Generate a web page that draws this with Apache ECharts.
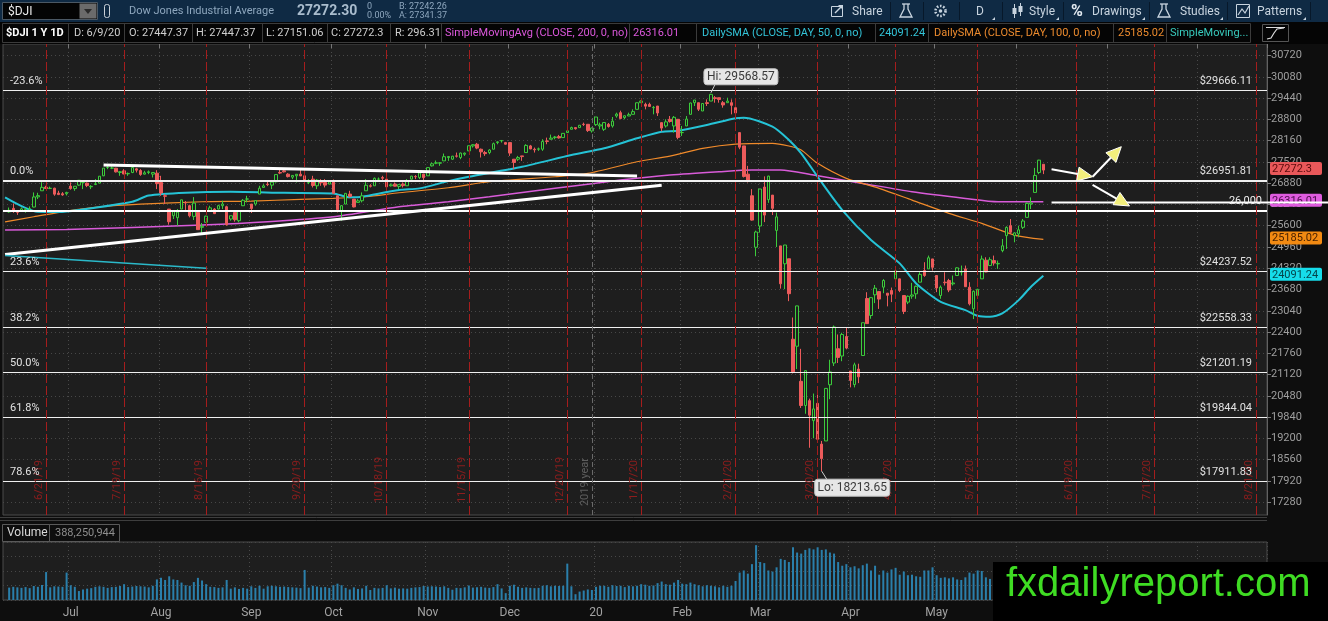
<!DOCTYPE html>
<html><head><meta charset="utf-8"><title>$DJI 1Y 1D</title>
<script src="https://cdn.jsdelivr.net/npm/echarts@6.0.0/dist/echarts.min.js"></script>
<style>html,body{margin:0;padding:0;background:#0e0e0e;overflow:hidden}#chart{width:1328px;height:621px}</style>
</head><body><div id="chart"></div>
<script>
// ---------- DATA: [date, open, high, low, close, volume (millions)] ----------
const jun19 = [
['2019-06-10',26013,26146,25989,26062,235],['2019-06-11',26120,26267,25986,26048,250],['2019-06-12',26010,26054,25926,26004,240],
['2019-06-13',26040,26151,26025,26106,230],['2019-06-14',26079,26128,25991,26090,245],['2019-06-17',26109,26180,26060,26112,225],
['2019-06-18',26160,26600,26150,26465,265],['2019-06-19',26466,26590,26400,26504,250],['2019-06-20',26650,26907,26650,26753,285],
['2019-06-21',26755,26800,26710,26719,530],['2019-06-24',26720,26775,26700,26727,240],['2019-06-25',26728,26741,26500,26548,260],
['2019-06-26',26580,26650,26520,26536,255],['2019-06-27',26560,26610,26500,26526,250],['2019-06-28',26560,26620,26510,26600,520]];
const jul19 = [
['2019-07-01',26790,26902,26682,26717,280],['2019-07-02',26716,26790,26650,26786,250],['2019-07-03',26820,26966,26800,26966,170],
['2019-07-05',26900,26930,26700,26922,200],['2019-07-08',26880,26900,26760,26806,215],['2019-07-09',26770,26820,26700,26783,225],
['2019-07-10',26840,27000,26820,26860,250],['2019-07-11',26880,27090,26880,27088,260],['2019-07-12',27100,27333,27090,27332,250],
['2019-07-15',27350,27400,27300,27359,230],['2019-07-16',27330,27390,27300,27335,245],['2019-07-17',27330,27340,27200,27219,250],
['2019-07-18',27200,27240,27100,27223,265],['2019-07-19',27250,27300,27150,27154,300],['2019-07-22',27160,27200,27100,27172,245],
['2019-07-23',27200,27350,27180,27349,255],['2019-07-24',27310,27340,27200,27270,265],['2019-07-25',27260,27300,27100,27141,260],
['2019-07-26',27150,27250,27140,27192,255],['2019-07-29',27200,27260,27150,27221,240],['2019-07-30',27150,27200,27050,27198,270],
['2019-07-31',27180,27270,26700,26864,390]];
const aug19 = [
['2019-08-01',26900,27100,26500,26583,420],['2019-08-02',26500,26550,26250,26485,380],['2019-08-05',26100,26100,25630,25718,450],
['2019-08-06',25900,26060,25800,26030,390],['2019-08-07',25840,26100,25600,26008,380],['2019-08-08',26100,26380,26100,26378,330],
['2019-08-09',26290,26340,26040,26287,280],['2019-08-12',26200,26230,25850,25898,270],['2019-08-13',25880,26460,25770,26280,340],
['2019-08-14',26000,26000,25480,25480,420],['2019-08-15',25550,25680,25340,25579,370],['2019-08-16',25700,25900,25700,25886,300],
['2019-08-19',26060,26200,26050,26136,250],['2019-08-20',26100,26130,25950,25962,245],['2019-08-21',26100,26230,26090,26202,230],
['2019-08-22',26200,26350,26100,26252,240],['2019-08-23',26170,26200,25600,25629,380],['2019-08-26',25800,25900,25750,25899,215],
['2019-08-27',26000,26050,25720,25778,240],['2019-08-28',25750,26050,25700,26036,210],['2019-08-29',26200,26400,26190,26362,230],
['2019-08-30',26400,26500,26300,26403,215]];
const sep19 = [
['2019-09-03',26250,26250,25980,26118,260],['2019-09-04',26250,26360,26200,26355,230],['2019-09-05',26550,26800,26550,26728,270],
['2019-09-06',26750,26850,26760,26797,215],['2019-09-09',26850,26950,26790,26835,260],['2019-09-10',26820,26910,26700,26909,270],
['2019-09-11',26920,27140,26900,27137,260],['2019-09-12',27200,27300,27150,27182,250],['2019-09-13',27250,27300,27200,27220,255],
['2019-09-16',27150,27180,27050,27076,245],['2019-09-17',27060,27120,27000,27111,240],['2019-09-18',27100,27150,26900,27147,235],
['2019-09-19',27150,27300,27100,27095,225],['2019-09-20',27100,27130,26900,26935,570],['2019-09-23',26900,27000,26850,26950,235],
['2019-09-24',27000,27100,26750,26808,270],['2019-09-25',26800,27000,26700,26970,255],['2019-09-26',26950,27000,26800,26891,240],
['2019-09-27',26900,27000,26750,26820,245],['2019-09-30',26850,26950,26850,26917,230]];
const oct19 = [
['2019-10-01',26950,26990,26570,26573,280],['2019-10-02',26500,26500,26000,26079,310],['2019-10-03',26050,26220,25750,26201,280],
['2019-10-04',26250,26580,26250,26573,230],['2019-10-07',26550,26650,26450,26478,200],['2019-10-08',26400,26400,26150,26164,240],
['2019-10-09',26300,26400,26300,26347,210],['2019-10-10',26350,26600,26300,26497,220],['2019-10-11',26650,27000,26650,26817,270],
['2019-10-14',26800,26850,26750,26787,190],['2019-10-15',26800,27050,26800,27025,230],['2019-10-16',27000,27050,26950,27001,220],
['2019-10-17',27050,27100,26950,27026,230],['2019-10-18',27000,27050,26700,26770,280],['2019-10-21',26800,26870,26780,26828,220],
['2019-10-22',26850,26900,26780,26788,235],['2019-10-23',26780,26840,26700,26834,215],['2019-10-24',26850,26900,26750,26806,220],
['2019-10-25',26800,27000,26800,26959,215],['2019-10-28',27000,27100,26990,27091,230],['2019-10-29',27080,27120,27000,27071,240],
['2019-10-30',27050,27200,27000,27186,245],['2019-10-31',27150,27160,26900,27046,265]];
const nov19 = [
['2019-11-01',27100,27350,27100,27347,255],['2019-11-04',27400,27500,27380,27462,260],['2019-11-05',27480,27560,27450,27492,255],
['2019-11-06',27480,27500,27400,27493,245],['2019-11-07',27550,27770,27550,27675,260],['2019-11-08',27650,27690,27550,27681,230],
['2019-11-11',27600,27700,27580,27691,195],['2019-11-12',27700,27800,27650,27691,230],['2019-11-13',27650,27800,27600,27784,225],
['2019-11-14',27750,27800,27700,27782,240],['2019-11-15',27850,28010,27850,28005,275],['2019-11-18',28000,28050,27950,28036,235],
['2019-11-19',28050,28090,27900,27934,240],['2019-11-20',27900,27920,27650,27821,250],['2019-11-21',27800,27850,27700,27767,235],
['2019-11-22',27800,27900,27750,27876,230],['2019-11-25',27900,28100,27900,28067,245],['2019-11-26',28100,28140,28050,28122,300],
['2019-11-27',28150,28170,28100,28164,220],['2019-11-29',28100,28120,28040,28051,130]];
const dec19 = [
['2019-12-02',28100,28100,27700,27783,270],['2019-12-03',27600,27600,27300,27503,290],['2019-12-04',27600,27700,27550,27650,250],
['2019-12-05',27700,27700,27550,27678,230],['2019-12-06',27800,28050,27800,28015,240],['2019-12-09',28000,28030,27900,27909,230],
['2019-12-10',27900,27950,27800,27882,225],['2019-12-11',27900,27950,27850,27911,230],['2019-12-12',27900,28200,27850,28132,270],
['2019-12-13',28150,28250,28050,28135,280],['2019-12-16',28200,28340,28200,28235,260],['2019-12-17',28250,28300,28200,28268,270],
['2019-12-18',28280,28330,28220,28240,265],['2019-12-19',28250,28380,28240,28377,270],['2019-12-20',28400,28580,28400,28455,690],
['2019-12-23',28500,28580,28500,28551,260],['2019-12-24',28550,28560,28490,28516,110],['2019-12-26',28550,28630,28550,28621,160],
['2019-12-27',28650,28700,28600,28645,180],['2019-12-30',28650,28650,28420,28462,200],['2019-12-31',28450,28550,28400,28538,190]];
const jan20 = [
['2020-01-02',28640,28870,28600,28869,250],['2020-01-03',28600,28700,28500,28634,270],['2020-01-06',28500,28710,28450,28703,270],
['2020-01-07',28650,28690,28550,28584,250],['2020-01-08',28600,28870,28550,28745,280],['2020-01-09',28900,29000,28850,28957,265],
['2020-01-10',29000,29060,28800,28824,270],['2020-01-13',28850,28910,28800,28907,245],['2020-01-14',28900,29000,28900,28940,270],
['2020-01-15',28950,29100,28950,29030,260],['2020-01-16',29100,29300,29100,29298,270],['2020-01-17',29300,29370,29300,29348,300],
['2020-01-21',29250,29300,29100,29196,290],['2020-01-22',29250,29300,29180,29187,270],['2020-01-23',29150,29200,28950,29160,275],
['2020-01-24',29200,29200,28900,28990,320],['2020-01-27',28700,28700,28440,28536,350],['2020-01-28',28600,28800,28550,28723,300],
['2020-01-29',28800,28900,28700,28734,290],['2020-01-30',28600,28900,28400,28860,330],['2020-01-31',28800,28800,28200,28256,380]];
const feb20 = [
['2020-02-03',28400,28600,28300,28400,310],['2020-02-04',28600,28900,28600,28808,300],['2020-02-05',28950,29300,28950,29291,330],
['2020-02-06',29300,29380,29200,29380,300],['2020-02-07',29300,29300,29050,29103,280],['2020-02-10',29050,29280,29050,29276,260],
['2020-02-11',29300,29400,29200,29276,280],['2020-02-12',29350,29568.57,29350,29551,270],['2020-02-13',29450,29500,29300,29424,260],
['2020-02-14',29450,29450,29300,29398,240],['2020-02-18',29300,29350,29150,29232,270],['2020-02-19',29300,29450,29300,29348,250],
['2020-02-20',29300,29400,28950,29220,270],['2020-02-21',29150,29150,28900,28992,360],['2020-02-24',28400,28400,27900,27961,520],
['2020-02-25',28000,28000,27050,27081,560],['2020-02-26',27150,27400,26900,26957,500],['2020-02-27',26500,26700,25750,25767,680],
['2020-02-28',24950,25450,24680,25409,1040]];
const mar20 = [
['2020-03-02',25590,26706,25391,26703,720],['2020-03-03',26763,27084,25707,25918,700],['2020-03-04',26383,27102,26286,27091,560],
['2020-03-05',26520,26520,25920,26121,540],['2020-03-06',25458,25994,24958,25865,620],['2020-03-09',24992,24992,23706,23851,780],
['2020-03-10',24453,25020,23690,25018,760],['2020-03-11',24604,24604,23328,23553,720],['2020-03-12',22184,22837,21154,21200,1000],
['2020-03-13',21973,23190,21285,23186,900],['2020-03-16',20917,21894,20116,20189,880],['2020-03-17',20190,21254,19940,21237,950],
['2020-03-18',20336,20396,18918,19899,980],['2020-03-19',19734,20550,19204,20087,960],['2020-03-20',20254,20531,19122,19174,1000],
['2020-03-23',19028,19122,18213.65,18592,950],['2020-03-24',19123,20704,19123,20704,960],['2020-03-25',20814,21566,20380,21200,900],
['2020-03-26',21468,22596,21378,22552,880],['2020-03-27',21898,22327,21469,21637,720],['2020-03-30',21678,22378,21522,22327,650],
['2020-03-31',22265,22541,21880,21917,680]];
const apr20 = [
['2020-04-01',21227,21227,20735,20944,620],['2020-04-02',20819,21477,20734,21413,640],['2020-04-03',21285,21447,20863,21053,600],
['2020-04-06',21693,22680,21693,22680,660],['2020-04-07',23409,23598,22650,22654,690],['2020-04-08',22898,23434,22800,23434,560],
['2020-04-09',23520,23815,23270,23719,650],['2020-04-13',23617,23617,23096,23391,480],['2020-04-14',23750,23991,23568,23950,560],
['2020-04-15',23570,23570,23172,23505,520],['2020-04-16',23650,23738,23300,23538,580],['2020-04-17',24000,24265,23900,24242,610],
['2020-04-20',24000,24000,23600,23650,480],['2020-04-21',23500,23500,22940,23019,540],['2020-04-22',23300,23500,23240,23475,470],
['2020-04-23',23480,23880,23400,23516,480],['2020-04-24',23550,23800,23400,23775,450],['2020-04-27',23900,24200,23900,24134,440],
['2020-04-28',24250,24500,24060,24101,560],['2020-04-29',24300,24700,24300,24634,560],['2020-04-30',24600,24600,24250,24346,620]];
const may20 = [
['2020-05-01',24100,24100,23600,23724,470],['2020-05-04',23500,23800,23400,23750,420],['2020-05-05',23900,24200,23800,23883,430],
['2020-05-06',23950,24000,23600,23664,410],['2020-05-07',23850,24100,23800,23876,430],['2020-05-08',24100,24350,24100,24331,390],
['2020-05-11',24200,24400,24100,24222,380],['2020-05-12',24300,24400,23760,23764,430],['2020-05-13',23750,23900,23200,23248,520],
['2020-05-14',23100,23650,22790,23625,500],['2020-05-15',23500,23700,23400,23685,560],['2020-05-18',24000,24700,24000,24597,550],
['2020-05-19',24560,24650,24200,24207,430],['2020-05-20',24400,24650,24400,24576,400],['2020-05-21',24550,24700,24400,24474,430],
['2020-05-22',24450,24550,24300,24465,380],['2020-05-26',24850,25200,24800,24995,470],['2020-05-27',25300,25580,24900,25548,560],
['2020-05-28',25600,25800,25350,25401,470],['2020-05-29',25300,25400,25100,25383,600]];
const jun20 = [
['2020-06-01',25350,25600,25250,25475,390],['2020-06-02',25550,25800,25500,25742,420],['2020-06-03',25850,26300,25850,26270,480],
['2020-06-04',26250,26450,26100,26281,470],['2020-06-05',26600,27338,26600,27111,560],['2020-06-08',27200,27580,27150,27572,460],
['2020-06-09',27447.37,27447.37,27151.06,27272.3,388.250944]];

// moving-average readings [date, value]
const ma50Pts = [['2019-06-07',26450],['2019-06-19',26018],['2019-06-26',26010],['2019-07-03',26070],['2019-07-23',26319],['2019-07-29',26505],
['2019-08-09',26590],['2019-08-26',26620],['2019-09-13',26590],['2019-10-01',26571],['2019-10-04',26470],['2019-10-08',26452],['2019-10-10',26470],
['2019-10-23',26671],['2019-10-30',26722],['2019-11-08',26940],['2019-11-15',27072],['2019-12-05',27373],['2019-12-23',27725],['2020-01-06',27927],
['2020-01-16',28228],['2020-01-27',28427],['2020-01-31',28457],['2020-02-11',28628],['2020-02-21',28830],['2020-02-25',28850],['2020-03-05',28577],
['2020-03-11',28177],['2020-03-16',27776],['2020-03-20',27072],['2020-03-30',26070],['2020-04-08',25167],['2020-04-20',24465],['2020-04-24',23863],
['2020-05-04',23310],['2020-05-12',23060],['2020-05-15',22888],['2020-05-20',22858],['2020-05-26',22960],['2020-06-01',23360],['2020-06-04',23761],
['2020-06-09',24091.24]];
const ma100Pts = [['2019-06-07',25717],['2019-06-18',25868],['2019-06-28',26040],['2019-07-11',26169],['2019-07-25',26250],['2019-08-15',26320],
['2019-09-03',26340],['2019-09-19',26391],['2019-10-01',26421],['2019-10-11',26470],['2019-10-23',26590],['2019-11-08',26741],['2019-11-22',26922],
['2019-12-17',27072],['2019-12-30',27172],['2020-01-16',27523],['2020-01-29',27695],['2020-02-10',27927],['2020-02-21',28056],['2020-03-05',28077],
['2020-03-11',27996],['2020-03-16',27876],['2020-03-20',27475],['2020-03-31',27024],['2020-04-13',26723],['2020-04-23',26370],['2020-05-06',25970],
['2020-05-18',25669],['2020-05-29',25317],['2020-06-09',25185.02]];
const ma200Pts = [['2019-06-07',25467],['2019-06-28',25488],['2019-07-23',25548],['2019-08-15',25618],['2019-09-09',25717],['2019-10-01',25868],
['2019-10-23',26169],['2019-11-08',26320],['2019-11-22',26470],['2019-12-17',26723],['2020-01-10',26971],['2020-01-29',27123],['2020-02-14',27223],
['2020-02-27',27273],['2020-03-09',27273],['2020-03-19',27123],['2020-04-06',26872],['2020-04-23',26620],['2020-05-12',26421],['2020-05-22',26320],
['2020-06-09',26316.01]];

// axis / annotation values
const priceTicks = [17280,17920,18560,19200,19840,20480,21120,21760,22400,23040,23680,24320,24960,25600,26240,26880,27520,28160,28800,29440,30080,30720];
const monthTicks = [['2019-07-01','Jul'],['2019-08-01','Aug'],['2019-09-03','Sep'],['2019-10-01','Oct'],['2019-11-01','Nov'],['2019-12-02','Dec'],
['2020-01-02','20'],['2020-02-03','Feb'],['2020-03-02','Mar'],['2020-04-01','Apr'],['2020-05-01','May'],['2020-06-01','Jun'],['2020-07-01','Jul'],['2020-08-03','Aug']];
const expiries = [['2019-06-21','6/21/19'],['2019-07-19','7/19/19'],['2019-08-16','8/16/19'],['2019-09-20','9/20/19'],['2019-10-18','10/18/19'],
['2019-11-15','11/15/19'],['2019-12-20','12/20/19'],['2020-01-17','1/17/20'],['2020-02-21','2/21/20'],['2020-03-20','3/20/20'],['2020-04-17','4/17/20'],
['2020-05-15','5/15/20'],['2020-06-19','6/19/20'],['2020-07-17','7/17/20'],['2020-08-21','8/21/20']];
const yearMark = ['2019-12-31','2019 year'];
const fibLevels = [['-23.6%',29666.11],['0.0%',26951.81],['23.6%',24237.52],['38.2%',22558.33],['50.0%',21201.19],['61.8%',19844.04],['78.6%',17911.83]];
const supportLine = 26040;
const shortLine = ['2020-06-11',26297,'26,000'];
const trendLines = [
  [['2019-07-12',27424],['2020-01-16',27093],'#ffffff',3],
  [['2019-06-07',24736],['2020-01-27',26816],'#ffffff',3],
  [['2019-06-07',24706],['2019-08-16',24318],'#2bb9c9',1.5]];
const arrows = [
  [['2020-06-11',27296],['2020-06-25',27073]],
  [['2020-06-25',27073],['2020-07-07',27976]],
  [['2020-06-25',26824],['2020-07-09',26192]]];
const hiPoint = ['2020-02-12',29568.57];
const loPoint = ['2020-03-23',18213.65];
const lastTags = [['27272.3',27272.3,'#e9585a','#5c0b0b'],['26316.01',26316.01,'#df5cdf','#4a0b4a'],['25185.02',25185.02,'#f28a12','#4a2200'],['24091.24',24091.24,'#16dcea','#04444a']];
const futureHolidays = ['2020-07-03'];

// ---------- build categories ----------
const rows = [].concat(jun19,jul19,aug19,sep19,oct19,nov19,dec19,jan20,feb20,mar20,apr20,may20,jun20);
const dates = ['2019-06-07'].concat(rows.map(r => r[0]));
(function(){ const d = new Date(Date.UTC(2020,5,10));
  while (dates.length < 308) { const s = d.toISOString().slice(0,10), w = d.getUTCDay();
    if (w !== 0 && w !== 6 && futureHolidays.indexOf(s) < 0) dates.push(s); d.setUTCDate(d.getUTCDate()+1); } })();
const idxOf = {}; dates.forEach((d,i) => idxOf[d] = i);
const candleData = dates.map(() => '-');
const volData = dates.map(() => '-');
rows.forEach(r => { const i = idxOf[r[0]]; candleData[i] = [r[1], r[4], r[3], r[2]]; volData[i] = r[5]; });
function sparse(pts){ const a = dates.map(() => null); pts.forEach(p => a[idxOf[p[0]]] = p[1]); return a; }
const monthIdx = new Set(monthTicks.map(m => idxOf[m[0]]));
const monthName = {}; monthTicks.forEach(m => monthName[idxOf[m[0]]] = m[1]);

const FONT = 'Roboto, "Noto Sans", sans-serif';
const GRID_L = 3, GRID_W = 1264;
const chart = echarts.init(document.getElementById('chart'));

const markLineData = [];
fibLevels.forEach(f => markLineData.push({ yAxis: f[1], lineStyle: { color: '#f0f0f0', width: f[0] === '0.0%' ? 2 : 1, type: 'solid' } }));
markLineData.push({ yAxis: supportLine, lineStyle: { color: '#ffffff', width: 2, type: 'solid' } });
expiries.forEach(e => markLineData.push({ xAxis: idxOf[e[0]], lineStyle: { color: '#a51d1d', width: 1, type: [9, 3] } }));
markLineData.push({ xAxis: idxOf[yearMark[0]], lineStyle: { color: '#6a6a6a', width: 1, type: [5, 3] } });
trendLines.forEach(t => markLineData.push([{ coord: [idxOf[t[0][0]], t[0][1]], lineStyle: { color: t[2], width: t[3], type: 'solid' } }, { coord: [idxOf[t[1][0]], t[1][1]] }]));

const option = {
  animation: false,
  backgroundColor: '#0e0e0e',
  grid: [
    { left: GRID_L, width: GRID_W, top: 44, height: 471, show: true, backgroundColor: '#1e1e1e', borderColor: '#4a4a4a', borderWidth: 1 },
    { left: GRID_L, width: GRID_W, top: 542, height: 58, show: true, backgroundColor: '#1e1e1e', borderColor: '#4a4a4a', borderWidth: 1 }
  ],
  xAxis: [
    { type: 'category', gridIndex: 0, data: dates, position: 'top', boundaryGap: true,
      axisLine: { show: false }, axisLabel: { show: false },
      axisTick: { show: true, inside: true, length: 4, interval: i => monthIdx.has(i), lineStyle: { color: '#777' } },
      splitLine: { show: true, interval: i => monthIdx.has(i), lineStyle: { color: '#4a4a4a', type: [1, 3] } } },
    { type: 'category', gridIndex: 1, data: dates, position: 'bottom', boundaryGap: true,
      axisLine: { show: false }, axisTick: { show: false },
      axisLabel: { show: true, interval: i => monthIdx.has(i), formatter: (v, i) => monthName[i] || '', color: '#a2a2a2', fontSize: 12, fontFamily: FONT, margin: 7 },
      splitLine: { show: true, interval: i => monthIdx.has(i), lineStyle: { color: '#4a4a4a', type: [1, 3] } } }
  ],
  yAxis: [
    { type: 'value', gridIndex: 0, min: 16895, max: 31066, position: 'right',
      axisLine: { show: true, lineStyle: { color: '#626262' } },
      axisTick: { show: true, length: 4, customValues: priceTicks, lineStyle: { color: '#7a7a7a' } },
      axisLabel: { show: true, customValues: priceTicks, formatter: v => String(v), color: '#9e9e9e', fontSize: 11, fontFamily: FONT, margin: 4 },
      splitLine: { show: true, lineStyle: { color: '#474747', type: [1, 3] } } },
    { type: 'value', gridIndex: 1, min: 0, max: 1100, interval: 275, position: 'right',
      axisLine: { show: false }, axisTick: { show: false }, axisLabel: { show: false },
      splitLine: { show: true, lineStyle: { color: '#474747', type: [1, 3] } } }
  ],
  series: [
    { type: 'line', name: 'SMA200', xAxisIndex: 0, yAxisIndex: 0, data: sparse(ma200Pts), connectNulls: true, showSymbol: false, smooth: 0.25,
      lineStyle: { color: '#d95bd9', width: 1.5 }, silent: true, z: 2 },
    { type: 'line', name: 'SMA100', xAxisIndex: 0, yAxisIndex: 0, data: sparse(ma100Pts), connectNulls: true, showSymbol: false, smooth: 0.25,
      lineStyle: { color: '#f08a2a', width: 1.2 }, silent: true, z: 2 },
    { type: 'line', name: 'SMA50', xAxisIndex: 0, yAxisIndex: 0, data: sparse(ma50Pts), connectNulls: true, showSymbol: false, smooth: 0.25,
      lineStyle: { color: '#25c3d6', width: 2 }, silent: true, z: 2 },
    { type: 'candlestick', name: '$DJI', xAxisIndex: 0, yAxisIndex: 0, data: candleData, barWidth: 3, silent: true, z: 3,
      itemStyle: { color: '#1e1e1e', color0: '#ec5b5b', borderColor: '#3ccc3c', borderColor0: '#ec5b5b', borderWidth: 1 },
      markLine: { silent: true, symbol: ['none', 'none'], label: { show: false }, emphasis: { disabled: true }, data: markLineData } },
    { type: 'bar', name: 'Volume', xAxisIndex: 1, yAxisIndex: 1, data: volData, barWidth: 2, silent: true,
      itemStyle: { color: '#2a7fab' } }
  ]
};
chart.setOption(option);

// ---------- graphic helpers ----------
function txt(x, y, text, fill, size, o) { o = o || {}; const al = o.align || 'left', va = o.va || 'middle';
  return { type: 'text', x: x, y: y, z: o.z || 20, silent: true, rotation: o.rot || 0,
    style: { text: text, fill: fill, font: (o.bold ? 'bold ' : '') + size + 'px ' + (o.family || FONT), align: al, verticalAlign: va, textAlign: al, textVerticalAlign: va } }; }
function rect(x, y, w, h, fill, stroke, o) { o = o || {};
  return { type: 'rect', z: o.z || 10, silent: true, shape: { x: x, y: y, width: w, height: h, r: o.r || 0 }, style: { fill: fill || 'none', stroke: stroke || 'none', lineWidth: o.lw || 1 } }; }
function line(x1, y1, x2, y2, stroke, lw, o) { o = o || {};
  return { type: 'line', z: o.z || 15, silent: true, shape: { x1: x1, y1: y1, x2: x2, y2: y2 }, style: { stroke: stroke, lineWidth: lw || 1, lineDash: o.dash || null } }; }
function poly(pts, fill, stroke, o) { o = o || {};
  return { type: 'polygon', z: o.z || 15, silent: true, shape: { points: pts }, style: { fill: fill || 'none', stroke: stroke || 'none', lineWidth: o.lw || 1 } }; }
function pline(pts, stroke, lw, o) { o = o || {};
  return { type: 'polyline', z: o.z || 15, silent: true, shape: { points: pts }, style: { fill: 'none', stroke: stroke, lineWidth: lw || 1 } }; }
function circ(cx, cy, r, fill, stroke, o) { o = o || {};
  return { type: 'circle', z: o.z || 15, silent: true, shape: { cx: cx, cy: cy, r: r }, style: { fill: fill || 'none', stroke: stroke || 'none', lineWidth: o.lw || 1, lineDash: o.dash || null } }; }
const px = (d, v) => chart.convertToPixel({ xAxisIndex: 0, yAxisIndex: 0 }, [idxOf[d], v]);
const g = [];

// ---------- toolbar row 1 ----------
const TB = '#c8d4df';
g.push(rect(0, 0, 1328, 22, '#0f2a44', null, { z: 5 }));
g.push(rect(2.5, 2.5, 95, 17, '#040404', '#4b5864', { z: 6 }));
g.push(txt(8, 11.5, '$DJI', '#eaeaea', 12, { z: 7 }));
g.push(rect(79.5, 3.5, 17, 15, '#6b6b6b', null, { z: 7 }));
g.push(poly([[84, 9], [92, 9], [88, 14]], '#2a2a2a', null, { z: 8 }));
g.push(rect(104.5, 4.5, 5, 13, 'none', '#c9d1d9', { r: 2, z: 7 }));
g.push(txt(129, 11.5, 'Dow Jones Industrial Average', '#8ea7be', 11));
g.push(txt(297, 11.5, '27272.30', '#a9bccd', 14, { bold: true }));
g.push(txt(367, 6.5, '0', '#8ea7be', 9)); g.push(txt(367, 15.5, '0.00%', '#8ea7be', 9));
g.push(txt(399, 6.5, 'B: 27242.26', '#8ea7be', 9)); g.push(txt(399, 15.5, 'A: 27341.37', '#8ea7be', 9));
g.push(rect(831.5, 6.5, 11, 10, 'none', TB, { z: 7 }));
g.push(pline([[835, 13], [842, 6]], TB, 1.5, { z: 8 })); g.push(poly([[838, 5], [843, 5], [843, 10]], TB, null, { z: 8 }));
g.push(txt(852, 11.5, 'Share', TB, 12));
[890, 923, 959, 1002, 1063, 1149, 1227, 1310].forEach(x => g.push(line(x + 0.5, 2, x + 0.5, 20, '#07182a', 1, { z: 7 })));
function flask(x) { g.push(pline([[x + 2, 4], [x + 2, 9], [x - 2, 17], [x + 10, 17], [x + 6, 9], [x + 6, 4]], TB, 1.3, { z: 8 })); g.push(line(x, 4, x + 8, 4, TB, 1.3, { z: 8 })); }
flask(902); flask(1160);
g.push(circ(940.5, 11, 5, 'none', TB, { lw: 2.6, dash: [1.6, 1.6], z: 8 })); g.push(circ(940.5, 11, 1.8, TB, null, { z: 8 }));
g.push(txt(976, 11.5, 'D', TB, 12));
[995, 1059, 1145, 1223, 1306].forEach(x => g.push(poly([[x - 3, 20], [x, 20], [x, 17]], TB, null, { z: 8 })));
g.push(line(1014.5, 4, 1014.5, 18, TB, 1, { z: 8 })); g.push(rect(1012.5, 8, 4, 6, TB, null, { z: 8 }));
g.push(line(1020.5, 3, 1020.5, 16, TB, 1, { z: 8 })); g.push(rect(1018.5, 6, 4, 6, TB, null, { z: 8 }));
g.push(txt(1029, 11.5, 'Style', TB, 12));
g.push(txt(1071, 11.5, '%', '#e4ebf2', 16, { bold: true }));
g.push(txt(1092, 11.5, 'Drawings', TB, 12));
g.push(txt(1180, 11.5, 'Studies', TB, 12));
g.push(rect(1236.5, 4.5, 13, 13, 'none', TB, { z: 8 }));
g.push(pline([[1238, 15], [1242, 9], [1245, 13], [1249, 6]], TB, 1.2, { z: 8 }));
g.push(txt(1257, 11.5, 'Patterns', TB, 12));

// ---------- toolbar row 2 ----------
g.push(rect(0, 22, 1328, 22, '#050505', null, { z: 5 }));
g.push(rect(2.5, 23.5, 1248, 19, 'none', '#3b3b3b', { z: 6 }));
[68, 124, 192, 262, 327, 390, 441, 629, 696, 875, 928, 1113, 1166].forEach(x => g.push(line(x + 0.5, 24, x + 0.5, 42, '#3b3b3b', 1, { z: 6 })));
const W = '#cfcfcf';
g.push(txt(6, 33, '$DJI 1 Y 1D', '#ffffff', 11, { bold: true }));
g.push(txt(74, 33, 'D: 6/9/20', W, 11));
g.push(txt(129, 33, 'O: 27447.37', W, 11));
g.push(txt(196, 33, 'H: 27447.37', W, 11));
g.push(txt(266, 33, 'L: 27151.06', W, 11));
g.push(txt(331, 33, 'C: 27272.3', W, 11));
g.push(txt(395, 33, 'R: 296.31', W, 11));
g.push(txt(445, 33, 'SimpleMovingAvg (CLOSE, 200, 0, no)', '#dc58dc', 11));
g.push(txt(633, 33, '26316.01', '#dc58dc', 11));
g.push(txt(702, 33, 'DailySMA (CLOSE, DAY, 50, 0, no)', '#33c4d8', 11));
g.push(txt(879, 33, '24091.24', '#33c4d8', 11));
g.push(txt(934, 33, 'DailySMA (CLOSE, DAY, 100, 0, no)', '#ec8b2e', 11));
g.push(txt(1118, 33, '25185.02', '#ec8b2e', 11));
g.push(txt(1170, 33, 'SimpleMoving...', '#38cbbd', 11));
g.push(rect(1262.5, 24.5, 26, 17, 'none', '#555', { z: 6 }));
g.push(line(1266, 27.5, 1285, 27.5, '#dddddd', 1, { z: 7 }));
g.push(pline([[1267, 39], [1271, 38], [1274, 33], [1277, 29], [1284, 28]], '#dddddd', 1.2, { z: 7 }));

// ---------- fib labels, tags ----------
fibLevels.forEach(f => { const y = px(dates[0], f[1])[1];
  g.push(txt(10, y - 9, f[0], '#e2e2e2', 11));
  g.push(txt(1252, y - 9, '$' + f[1].toFixed(2), '#e2e2e2', 11, { align: 'right' })); });
lastTags.forEach(t => { const y = px(dates[0], t[1])[1] - 1.5;
  g.push(rect(1270, y - 6.5, 52, 13, t[2], null, { r: 2, z: 30 }));
  g.push(txt(1272, y + 0.5, t[0], t[3], 11, { z: 31 })); });

// short drawn line + label
(function(){ const p = px(shortLine[0], shortLine[1]);
  g.push(line(p[0], p[1], 1328, p[1], '#ffffff', 2, { z: 35 }));
  g.push(txt(1262, p[1] - 1, shortLine[2], '#f0f0f0', 11, { align: 'right', z: 36 })); })();

// arrows
arrows.forEach(a => { const p1 = px(a[0][0], a[0][1]), p2 = px(a[1][0], a[1][1]);
  const dx = p2[0] - p1[0], dy = p2[1] - p1[1], len = Math.hypot(dx, dy), ux = dx / len, uy = dy / len, hl = 15, hw = 7;
  const bx = p2[0] - ux * hl, by = p2[1] - uy * hl;
  g.push(line(p1[0], p1[1], bx, by, '#ffffff', 2, { z: 40 }));
  g.push(poly([[p2[0], p2[1]], [bx - uy * hw, by + ux * hw], [bx + uy * hw, by - ux * hw]], '#f3ef7c', '#ffffff', { z: 41 })); });

// expiry labels
expiries.forEach(e => { const x = px(e[0], 20000)[0];
  g.push(txt(x - 7, 480, e[1], '#8d1d1d', 11, { align: 'center', rot: Math.PI / 2, z: 12 })); });
(function(){ const x = px(yearMark[0], 20000)[0]; g.push(txt(x - 7, 482, yearMark[1], '#5e5e5e', 11, { align: 'center', rot: Math.PI / 2, z: 12 })); })();

// hi / lo callouts
(function(){ const h = px(hiPoint[0], hiPoint[1]);
  g.push(line(h[0], h[1] - 1, h[0] + 4, h[1] - 9, '#cfcfcf', 1, { z: 30 }));
  g.push(rect(h[0] - 7, h[1] - 25, 74, 16, '#e6e6e6', '#c4c4c4', { r: 3, z: 31 }));
  g.push(txt(h[0] + 30, h[1] - 16.5, 'Hi: ' + hiPoint[1].toFixed(2), '#3a3a3a', 12, { align: 'center', z: 32 }));
  const l = px(loPoint[0], loPoint[1]);
  g.push(line(l[0], l[1], l[0] + 5, l[1] + 8, '#cfcfcf', 1, { z: 30 }));
  g.push(rect(l[0] - 7, l[1] + 8, 75, 17, '#e6e6e6', '#c4c4c4', { r: 3, z: 31 }));
  g.push(txt(l[0] + 30.5, l[1] + 17, 'Lo: ' + loPoint[1].toFixed(2), '#3a3a3a', 12, { align: 'center', z: 32 })); })();

// volume header
g.push(line(0, 517.5, 1267, 517.5, '#3e3e3e', 1, { z: 6 }));
g.push(line(0, 520.5, 1267, 520.5, '#3e3e3e', 1, { z: 6 }));
g.push(rect(2.5, 524.5, 47, 17, 'none', '#5a5a5a', { z: 6 }));
g.push(txt(7, 533, 'Volume', '#d8d8d8', 12));
g.push(rect(49.5, 524.5, 70, 17, 'none', '#5a5a5a', { z: 6 }));
g.push(txt(55, 533, '388,250,944', '#8e8e8e', 11));

// watermark
g.push(rect(993, 562, 335, 59, '#000000', null, { z: 100 }));
g.push(txt(1006, 585, 'fxdailyreport.com', '#3fdc23', 40, { z: 101, family: '"Liberation Sans", Arial, sans-serif' }));

chart.setOption({ graphic: { elements: g } });
</script></body></html>
